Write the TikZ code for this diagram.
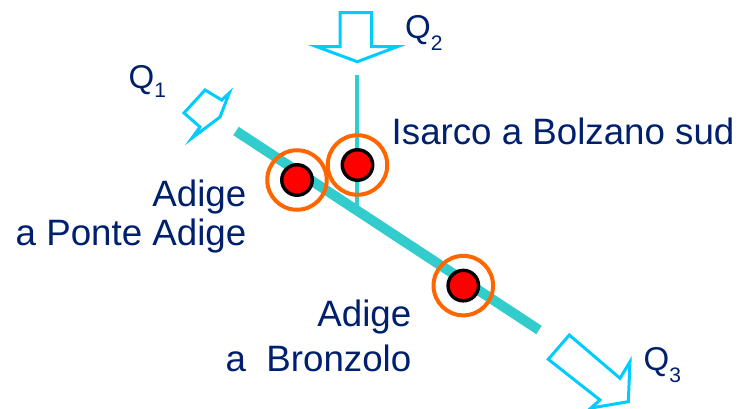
\documentclass[tikz,border=0pt]{standalone}
\usepackage{fontspec}
\setmainfont{Liberation Sans}
\definecolor{navy}{RGB}{0,32,110}
\definecolor{riverteal}{RGB}{51,204,204}
\definecolor{flowcyan}{RGB}{0,204,255}
\definecolor{ringorange}{RGB}{255,102,0}
\begin{document}
\begin{tikzpicture}[x=1pt,y=-1pt,
  river/.style={draw=riverteal,line width=10pt},
  trib/.style={draw=riverteal,line width=4pt},
  flowarrow/.style={draw=flowcyan,line width=3pt,line join=miter,fill=white},
  ring/.style={circle,draw=ringorange,line width=4pt,minimum size=59.5pt,inner sep=0pt},
  dot/.style={circle,draw=black,fill=red,line width=3.4pt,minimum size=30.5pt,inner sep=0pt},
  lbl/.style={font=\fontsize{36.7}{40}\selectfont,text=navy,inner sep=0pt},
  qlbl/.style={font=\fontsize{33}{36}\selectfont,text=navy,inner sep=0pt}
]
\useasboundingbox (0,0) rectangle (744,409);
% rivers
\coordinate (mainA) at (236,131);
\coordinate (mainB) at (539,330);
\coordinate (tribTop) at (357,75);
\coordinate (tribEnd) at (357,209);
\draw[trib] (tribTop) -- (tribEnd);
\draw[river] (mainA) -- (mainB);
% flow arrows
\draw[flowarrow] (340,12.7) -- (371.7,12.7) -- (371.7,46.7) -- (397.3,46.7) -- (357.3,61.7) -- (316.7,46.7) -- (340,46.7) -- cycle;
\draw[flowarrow] (184,113) -- (200,127) -- (192,138) -- (220,117) -- (229.3,93) -- (221.7,100) -- (205,90) -- cycle;
\draw[flowarrow] (548.3,359.3) -- (569.3,335) -- (620,378.3) -- (630,361.7) -- (628.3,401.7) -- (591,408) -- (600,400) -- cycle;
% stations
\node[ring] (ringPA) at (297,180) {};
\node[dot] (dotPA) at (297,180) {};
\node[ring] (ringIS) at (357.5,165) {};
\node[dot] (dotIS) at (357.5,165) {};
\node[ring] (ringBR) at (463.3,285.6) {};
\node[dot] (dotBR) at (463.3,285.6) {};
% labels
\node[lbl,anchor=base west] (isarco) at (391.5,145) {Isarco a Bolzano sud};
\node[lbl,anchor=base east] (pa1) at (246.5,206.7) {Adige};
\node[lbl,anchor=base east] (pa2) at (246.5,245) {a Ponte Adige};
\node[lbl,anchor=base east] (br1) at (411.5,326.7) {Adige};
\node[lbl,anchor=base east] (br2) at (411.5,371) {a~~Bronzolo};
\node[qlbl,anchor=base west] (q1) at (128.5,88.3) {Q\raisebox{-9pt}{\fontsize{21}{21}\selectfont 1}};
\node[qlbl,anchor=base west] (q2) at (405,38.3) {Q\raisebox{-12pt}{\fontsize{21}{21}\selectfont 2}};
\node[qlbl,anchor=base west] (q3) at (643.5,370) {Q\raisebox{-12pt}{\fontsize{21}{21}\selectfont 3}};
\end{tikzpicture}
\end{document}
